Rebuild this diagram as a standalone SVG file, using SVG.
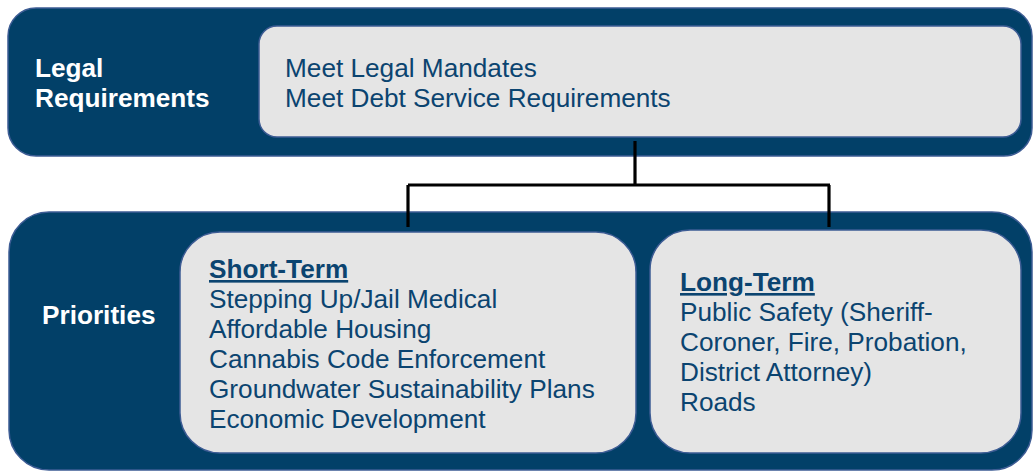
<svg xmlns="http://www.w3.org/2000/svg" width="1036" height="472" viewBox="0 0 1036 472">
<style>
.outer{fill:#024068;stroke:#3d5c94;stroke-width:1.5}
.inner{fill:#e5e5e5;stroke:#3d5c94;stroke-width:1.5}
.lbl{font-family:"Liberation Sans",Arial,sans-serif;font-weight:bold;font-size:26.2px;fill:#ffffff}
.txt{font-family:"Liberation Sans",Arial,sans-serif;font-size:26.2px;fill:#0b4470}
.hdr{font-weight:bold;text-decoration:underline}
.conn{fill:none;stroke:#000000;stroke-width:3.2}
</style>
<g id="legal">
<rect class="outer" x="8" y="8" width="1024" height="148" rx="28"/>
<text class="lbl" x="35" y="77">Legal</text>
<text class="lbl" x="35" y="107">Requirements</text>
</g>
<g id="legal-items">
<rect class="inner" x="259" y="26" width="762" height="111" rx="18"/>
<text class="txt" x="285" y="77">Meet Legal Mandates</text>
<text class="txt" x="285" y="107">Meet Debt Service Requirements</text>
</g>
<g id="priorities">
<rect class="outer" x="9" y="212" width="1023" height="258" rx="40"/>
<text class="lbl" x="42" y="324">Priorities</text>
</g>
<g id="short-term">
<rect class="inner" x="180" y="232" width="456" height="221" rx="40"/>
<text class="txt hdr" x="209" y="278">Short-Term</text>
<text class="txt" x="209" y="308">Stepping Up/Jail Medical</text>
<text class="txt" x="209" y="338">Affordable Housing</text>
<text class="txt" x="209" y="368">Cannabis Code Enforcement</text>
<text class="txt" x="209" y="398">Groundwater Sustainability Plans</text>
<text class="txt" x="209" y="428">Economic Development</text>
</g>
<g id="long-term">
<rect class="inner" x="650" y="230" width="371" height="223" rx="40"/>
<text class="txt hdr" x="680" y="291">Long-Term</text>
<text class="txt" x="680" y="321">Public Safety (Sheriff-</text>
<text class="txt" x="680" y="351">Coroner, Fire, Probation,</text>
<text class="txt" x="680" y="381">District Attorney)</text>
<text class="txt" x="680" y="411">Roads</text>
</g>
<g id="connectors">
<path class="conn" d="M635 141 V185"/>
<path class="conn" d="M408 185 H830"/>
<path class="conn" d="M408 185 V227"/>
<path class="conn" d="M829 185 V227"/>
</g>
</svg>
